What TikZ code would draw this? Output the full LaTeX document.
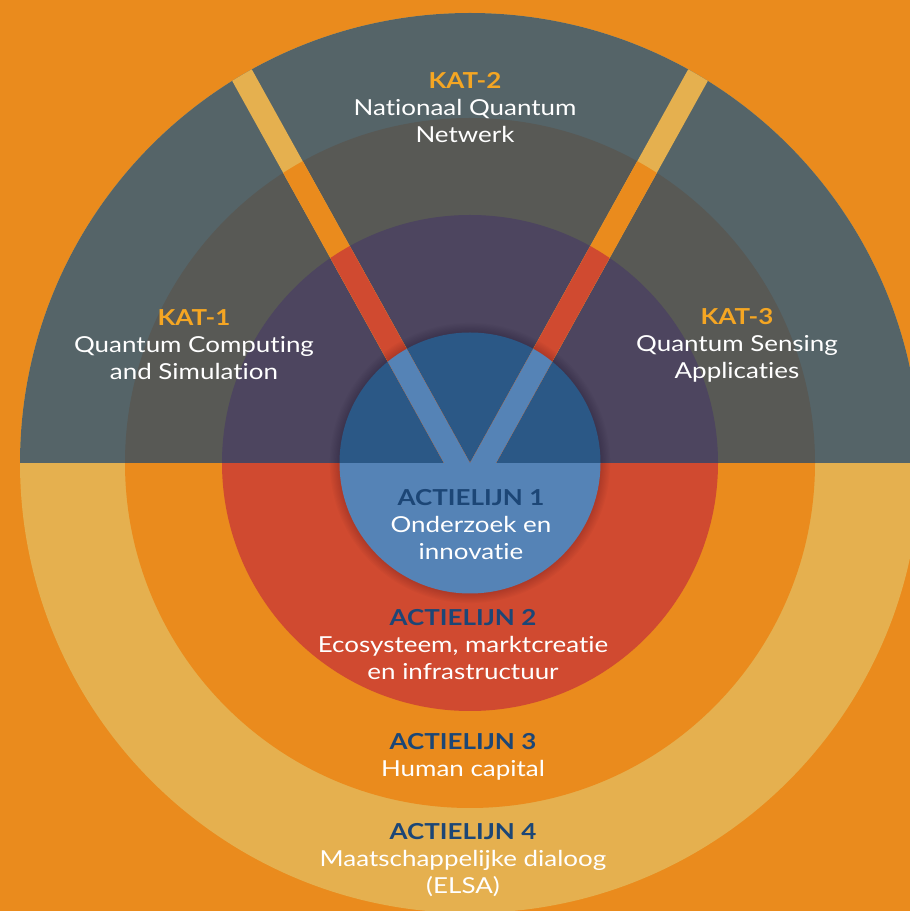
\documentclass[tikz,border=0pt]{standalone}
\usepackage{fontspec}
\setmainfont[FakeStretch=1.18,Ligatures=NoCommon]{Lato}
\definecolor{bgorange}{HTML}{EA8B1D}
\definecolor{ringlight}{HTML}{E5B04F}
\definecolor{ringred}{HTML}{D04A30}
\definecolor{coreblue}{HTML}{5583B6}
\definecolor{topslate}{HTML}{556468}
\definecolor{topgray}{HTML}{585955}
\definecolor{toppurple}{HTML}{4D455F}
\definecolor{topblue}{HTML}{2B5886}
\definecolor{lijnblue}{HTML}{1C4676}
\definecolor{katorange}{HTML}{F5A623}
\begin{document}
\begin{tikzpicture}[x=1pt,y=1pt,
    label/.style={align=center,text=white,font=\fontsize{22}{27}\selectfont}]
    \pgfmathsetmacro{\ra}{450}
    \pgfmathsetmacro{\rb}{345}
    \pgfmathsetmacro{\rc}{248}
    \pgfmathsetmacro{\rd}{130.5}
    \pgfmathsetmacro{\tilt}{29}
    \useasboundingbox (0,0) rectangle (910,911);
    \fill[bgorange] (0,0) rectangle (910,911);
    \coordinate (c) at (470,448);
    \fill[ringlight] (c) circle (\ra);
    \fill[bgorange] (c) circle (\rb);
    \fill[ringred] (c) circle (\rc);
    \foreach \k in {1,...,8} \fill[black,opacity=0.02] (c) circle ({\rd+1.2*\k});
    \fill[coreblue] (c) circle (\rd);
    % upper half, darker
    \begin{scope}
      \clip (0,448) rectangle (910,911);
      \fill[topslate] (c) circle (\ra);
      \fill[topgray] (c) circle (\rb);
      \fill[toppurple] (c) circle (\rc);
      \foreach \k in {1,...,8} \fill[black,opacity=0.02] (c) circle ({\rd+1.2*\k});
      \fill[topblue] (c) circle (\rd);
    \end{scope}
    \begin{scope}
      \clip (c) -- ++(-26,0) -- ++(90+\tilt:600) -- ++(26,0) -- cycle
            (c) -- ++(26,0) -- ++(90-\tilt:600) -- ++(-26,0) -- cycle;
      \fill[ringlight] (c) circle (\ra);
      \fill[bgorange] (c) circle (\rb);
      \fill[ringred] (c) circle (\rc);
      \foreach \k in {1,...,8} \fill[black,opacity=0.02] (c) circle ({\rd+1.2*\k});
      \fill[coreblue] (c) circle (\rd);
    \end{scope}
    \node[label] (kat1) at (194,566) {\textcolor{katorange}{\bfseries KAT-1}\\Quantum Computing\\and Simulation};
    \node[label] (kat2) at (465,803) {\textcolor{katorange}{\bfseries KAT-2}\\Nationaal Quantum\\Netwerk};
    \node[label] (kat3) at (737,566) {\textcolor{katorange}{\bfseries KAT-3}\\Quantum Sensing\\Applicaties};
    \node[label] (lijn1) at (471,386) {\textcolor{lijnblue}{\bfseries ACTIELIJN 1}\\Onderzoek en\\innovatie};
    \node[label] (lijn2) at (463,266) {\textcolor{lijnblue}{\bfseries ACTIELIJN 2}\\Ecosysteem, marktcreatie\\en infrastructuur};
    \node[label] (lijn3) at (463,154.5) {\textcolor{lijnblue}{\bfseries ACTIELIJN 3}\\Human capital};
    \node[label] (lijn4) at (463,51) {\textcolor{lijnblue}{\bfseries ACTIELIJN 4}\\Maatschappelijke dialoog\\(ELSA)};
\end{tikzpicture}
\end{document}
